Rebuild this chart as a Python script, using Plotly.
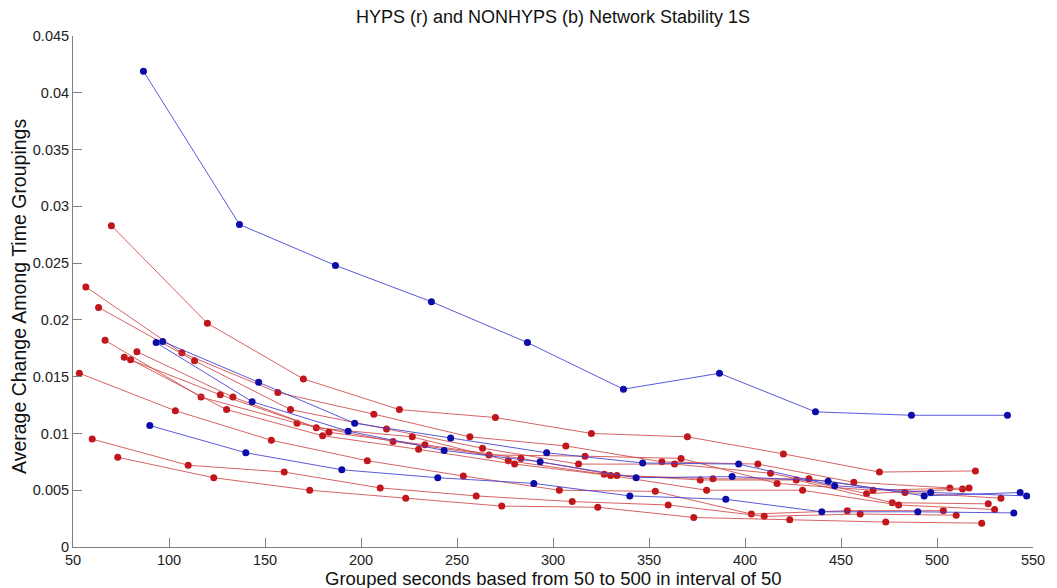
import plotly.graph_objects as go

# ---- data ----
R0_X = [53.3, 103.3, 153.3, 203.3, 253.3, 303.3, 353.3, 403.3, 453.3, 503.3]
R0_Y = [0.0153, 0.0120, 0.0094, 0.0076, 0.00625, 0.0050, 0.0049, 0.0029, 0.0032, 0.0032]
R1_X = [56.7, 106.7, 156.7, 206.7, 256.7, 306.7, 356.7, 406.7, 456.7, 506.7]
R1_Y = [0.0229, 0.0171, 0.0136, 0.0117, 0.0097, 0.0089, 0.0075, 0.0073, 0.0057, 0.0052]
R2_X = [60, 110, 160, 210, 260, 310, 360, 410, 460, 510]
R2_Y = [0.0095, 0.0072, 0.0066, 0.0052, 0.0045, 0.0040, 0.0037, 0.0027, 0.0029, 0.0028]
R3_X = [63.3, 113.3, 163.3, 213.3, 263.3, 313.3, 363.3, 413.3, 463.3, 513.3]
R3_Y = [0.0211, 0.0164, 0.0121, 0.0104, 0.0087, 0.0073, 0.0073, 0.0065, 0.0047, 0.0051]
R4_X = [66.7, 116.7, 166.7, 216.7, 266.7, 316.7, 366.7, 416.7, 466.7, 516.7]
R4_Y = [0.0182, 0.0132, 0.0109, 0.0093, 0.0081, 0.0080, 0.0078, 0.0056, 0.0050, 0.0052]
R5_X = [70, 120, 170, 220, 270, 320, 370, 420, 470, 520]
R5_Y = [0.0283, 0.0197, 0.0148, 0.0121, 0.0114, 0.0100, 0.0097, 0.0082, 0.0066, 0.0067]
R6_X = [73.3, 123.3, 173.3, 223.3, 273.3, 323.3, 373.3, 423.3, 473.3, 523.3]
R6_Y = [0.0079, 0.0061, 0.0050, 0.0043, 0.0036, 0.0035, 0.0026, 0.0024, 0.0022, 0.0021]
R7_X = [76.7, 126.7, 176.7, 226.7, 276.7, 326.7, 376.7, 426.7, 476.7, 526.7]
R7_Y = [0.0167, 0.0134, 0.0105, 0.0097, 0.0076, 0.0064, 0.0059, 0.0059, 0.0039, 0.0038]
R8_X = [80, 130, 180, 230, 280, 330, 380, 430, 480, 530]
R8_Y = [0.0165, 0.0121, 0.0098, 0.0086, 0.0073, 0.0063, 0.0050, 0.0050, 0.0037, 0.0033]
R9_X = [83.3, 133.3, 183.3, 233.3, 283.3, 333.3, 383.3, 433.3, 483.3, 533.3]
R9_Y = [0.0172, 0.0132, 0.0101, 0.0090, 0.0078, 0.0063, 0.0060, 0.0060, 0.0048, 0.0043]

B0_X = [86.7, 136.7, 186.7, 236.7, 286.7, 336.7, 386.7, 436.7, 486.7, 536.7]
B0_Y = [0.0419, 0.0284, 0.0248, 0.0216, 0.0180, 0.0139, 0.0153, 0.0119, 0.0116, 0.0116]
B1_X = [90, 140, 190, 240, 290, 340, 390, 440, 490, 540]
B1_Y = [0.0107, 0.0083, 0.0068, 0.0061, 0.0056, 0.0045, 0.0042, 0.0031, 0.0031, 0.0030]
B2_X = [93.3, 143.3, 193.3, 243.3, 293.3, 343.3, 393.3, 443.3, 493.3, 543.3]
B2_Y = [0.0180, 0.0128, 0.0102, 0.0085, 0.0075, 0.0061, 0.0062, 0.0058, 0.0045, 0.0048]
B3_X = [96.7, 146.7, 196.7, 246.7, 296.7, 346.7, 396.7, 446.7, 496.7, 546.7]
B3_Y = [0.0181, 0.0145, 0.0109, 0.0096, 0.0083, 0.0074, 0.0073, 0.0054, 0.0048, 0.0045]

HYPS = [(R0_X, R0_Y), (R1_X, R1_Y), (R2_X, R2_Y), (R3_X, R3_Y), (R4_X, R4_Y),
        (R5_X, R5_Y), (R6_X, R6_Y), (R7_X, R7_Y), (R8_X, R8_Y), (R9_X, R9_Y)]
NONHYPS = [(B0_X, B0_Y), (B1_X, B1_Y), (B2_X, B2_Y), (B3_X, B3_Y)]

X_TICKS = [50, 100, 150, 200, 250, 300, 350, 400, 450, 500, 550]
Y_TICKS = [0, 0.005, 0.01, 0.015, 0.02, 0.025, 0.03, 0.035, 0.04, 0.045]
Y_TICK_TEXT = ["0", "0.005", "0.01", "0.015", "0.02", "0.025", "0.03", "0.035", "0.04", "0.045"]

TITLE = "HYPS (r) and NONHYPS (b) Network Stability 1S"
X_LABEL = "Grouped seconds based from 50 to 500 in interval of 50"
Y_LABEL = "Average Change Among Time Groupings"

FONT = "Liberation Sans, Arial, sans-serif"

fig = go.Figure()
for xs, ys in HYPS:
    fig.add_trace(go.Scatter(
        x=xs, y=ys, mode="lines+markers",
        line=dict(color="rgba(208,70,70,0.85)", width=1),
        marker=dict(color="#c0161c", size=7),
        showlegend=False, hoverinfo="x+y"))
for xs, ys in NONHYPS:
    fig.add_trace(go.Scatter(
        x=xs, y=ys, mode="lines+markers",
        line=dict(color="rgba(60,60,210,0.85)", width=1),
        marker=dict(color="#0c0ca8", size=7),
        showlegend=False, hoverinfo="x+y"))

axis_common = dict(
    showgrid=False, zeroline=False, showline=True, linecolor="#808080", linewidth=1,
    ticks="inside", ticklen=9, tickcolor="#808080", tickwidth=1,
    tickfont=dict(family=FONT, size=14.5, color="#222222"), mirror=False,
)
fig.update_xaxes(range=[50, 550], tickvals=X_TICKS, **axis_common)
fig.update_yaxes(range=[0, 0.045], tickvals=Y_TICKS, ticktext=Y_TICK_TEXT, **axis_common)

fig.update_layout(
    width=1057, height=588,
    margin=dict(l=73, r=17, t=36, b=41),
    paper_bgcolor="white", plot_bgcolor="white",
    font=dict(family=FONT, color="#111111"),
    title=dict(text=TITLE, x=0.5, xref="paper", y=1 - 17 / 588, yref="container",
               xanchor="center", yanchor="middle",
               font=dict(family=FONT, size=18, color="#111111")),
    annotations=[
        dict(text=X_LABEL, xref="paper", yref="paper", x=0.5, y=(547 - 578.5) / 511,
             xanchor="center", yanchor="middle", showarrow=False,
             font=dict(family=FONT, size=18.5, color="#111111")),
        dict(text=Y_LABEL, xref="paper", yref="paper", x=(18 - 73) / 967, y=0.49,
             xanchor="center", yanchor="middle", showarrow=False, textangle=-90,
             font=dict(family=FONT, size=19.5, color="#111111")),
    ],
)

fig.write_html("out.html")
